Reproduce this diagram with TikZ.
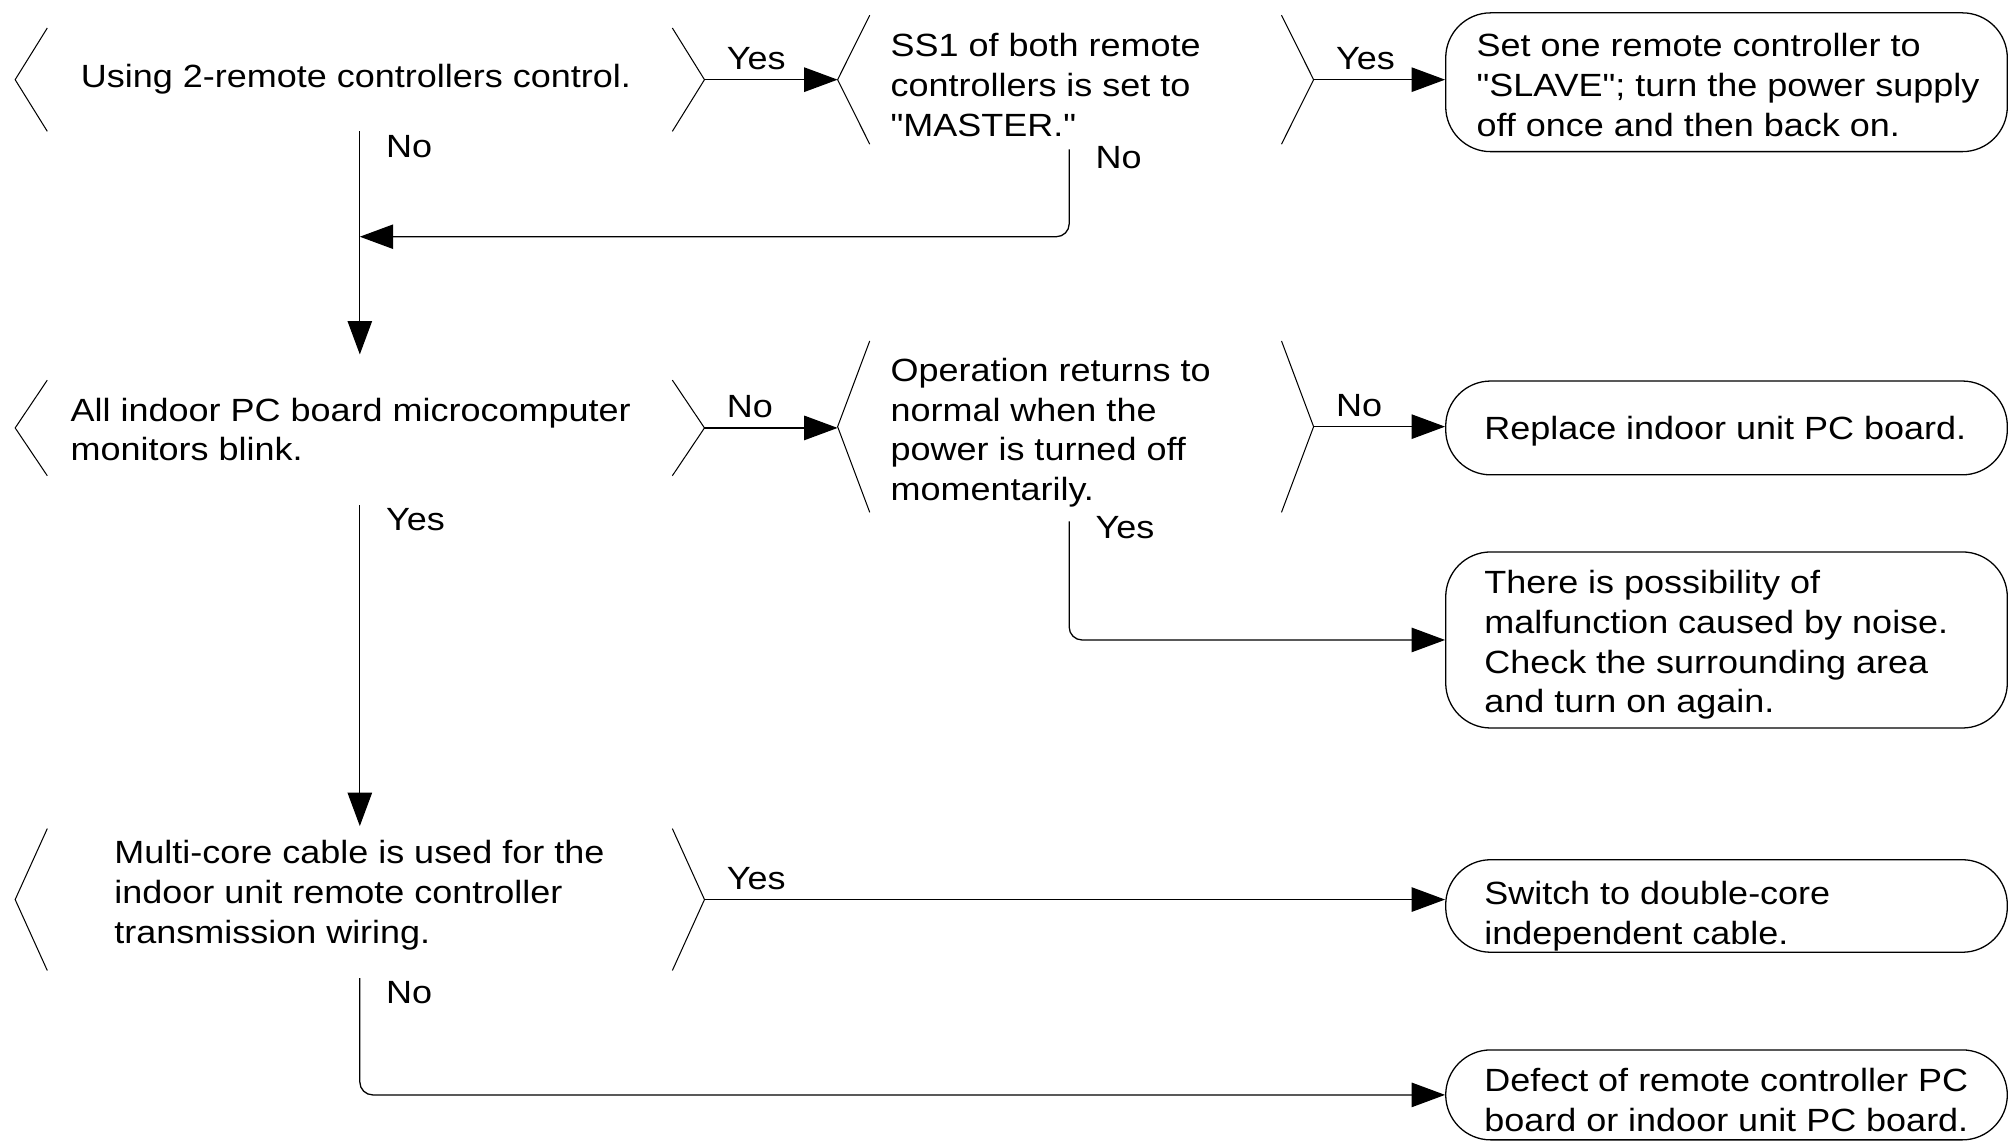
\documentclass[tikz,border=0pt]{standalone}
\usepackage{fontspec}
\setmainfont{Liberation Sans}[FakeStretch=1.12, Ligatures=TeXOff]
\usetikzlibrary{arrows.meta}
% width, downward shift, lines
\newcommand\dtext[3]{\makebox[#1][l]{\raisebox{-#2}[\height][\depth]{\begin{tabular}{@{}l@{}}#3\end{tabular}}}}
\begin{document}
\begin{tikzpicture}[x=1pt,y=-1pt,
  every node/.style={font=\fontsize{25}{31}\selectfont},
  dec/.style={rectangle, inner sep=0pt},
  term/.style={draw, line width=1pt, rounded corners=35pt, minimum width=437pt, inner sep=0pt},
  arr/.style={line width=1pt, -{Triangle[length=26pt,width=19pt]}},
  brk/.style={line width=0.8pt},
  hlab/.style={pos=0, anchor=south west, inner sep=0pt, xshift=17pt, yshift=7pt},
  vlab/.style={pos=0, anchor=north west, inner sep=0pt, xshift=20pt, yshift=-2pt}]
\useasboundingbox (0,0) rectangle (1568,888);

% decisions
\node[dec, minimum width=536pt, minimum height=80pt] (d1) at (280,62)
  {\dtext{434pt}{0pt}{Using 2-remote controllers control.}};
\node[dec, minimum width=370pt, minimum height=100pt] (d2) at (837,62)
  {\dtext{288pt}{7pt}{SS1 of both remote\\controllers is set to\\"MASTER."}};
\node[dec, minimum width=536pt, minimum height=74pt] (d3) at (280,333)
  {\dtext{450pt}{4pt}{All indoor PC board microcomputer\\monitors blink.}};
\node[dec, minimum width=370pt, minimum height=133pt] (d4) at (837,332)
  {\dtext{288pt}{5pt}{Operation returns to\\normal when the\\power is turned off\\momentarily.}};
\node[dec, minimum width=536pt, minimum height=110pt] (d5) at (280,700)
  {\dtext{382pt}{-3pt}{Multi-core cable is used for the\\indoor unit remote controller\\transmission wiring.}};

% terminals
\node[term, minimum height=108pt] (t1) at (1343.5,64)
  {\dtext{389pt}{5pt}{Set one remote controller to\\"SLAVE"; turn the power supply\\off once and then back on.}};
\node[term, minimum height=73pt] (t2) at (1343.5,333)
  {\dtext{377pt}{3pt}{Replace indoor unit PC board.}};
\node[term, minimum height=137pt] (t3) at (1343.5,498)
  {\dtext{377pt}{4pt}{There is possibility of\\malfunction caused by noise.\\Check the surrounding area\\and turn on again.}};
\node[term, minimum height=72pt] (t4) at (1343.5,705)
  {\dtext{377pt}{8pt}{Switch to double-core\\independent cable.}};
\node[term, minimum height=70pt] (t5) at (1343.5,852)
  {\dtext{377pt}{7pt}{Defect of remote controller PC\\board or indoor unit PC board.}};

% brackets of the decisions
\foreach \n in {d1,d2,d3,d4,d5}{
  \draw[brk] ([xshift=25pt]\n.north west) -- (\n.west) -- ([xshift=25pt]\n.south west);
  \draw[brk] ([xshift=-25pt]\n.north east) -- (\n.east) -- ([xshift=-25pt]\n.south east);
}

% connectors
\path (d1.south) ++(0,82) coordinate (m1);
\draw[arr] (d1.east) -- node[hlab]{Yes} (d1.east -| d2.west);
\draw[arr] (d2.east) -- node[hlab]{Yes} (d2.east -| t1.west);
\draw[arr, shorten >=20pt] (d1.south) -- node[vlab, yshift=-1pt]{No} (d3.north);
\draw[arr, rounded corners=10pt] ([xshift=-5pt,yshift=-4pt]d2.south) |- node[vlab, yshift=5pt]{No} (m1);
\draw[arr] (d3.east) -- node[hlab]{No} (d3.east -| d4.west);
\draw[arr] (d4.east) -- node[hlab]{No} (d4.east -| t2.west);
\draw[arr, shorten >=2pt] ([yshift=-23pt]d3.south) -- node[vlab]{Yes} (d5.north);
\draw[arr, rounded corners=10pt] ([xshift=-5pt,yshift=-7pt]d4.south) |- node[vlab, yshift=6pt]{Yes} (t3.west);
\draw[arr] (d5.east) -- node[hlab]{Yes} (d5.east -| t4.west);
\draw[arr, rounded corners=10pt] ([yshift=-6pt]d5.south) |- node[vlab]{No} (t5.west);
\end{tikzpicture}
\end{document}
